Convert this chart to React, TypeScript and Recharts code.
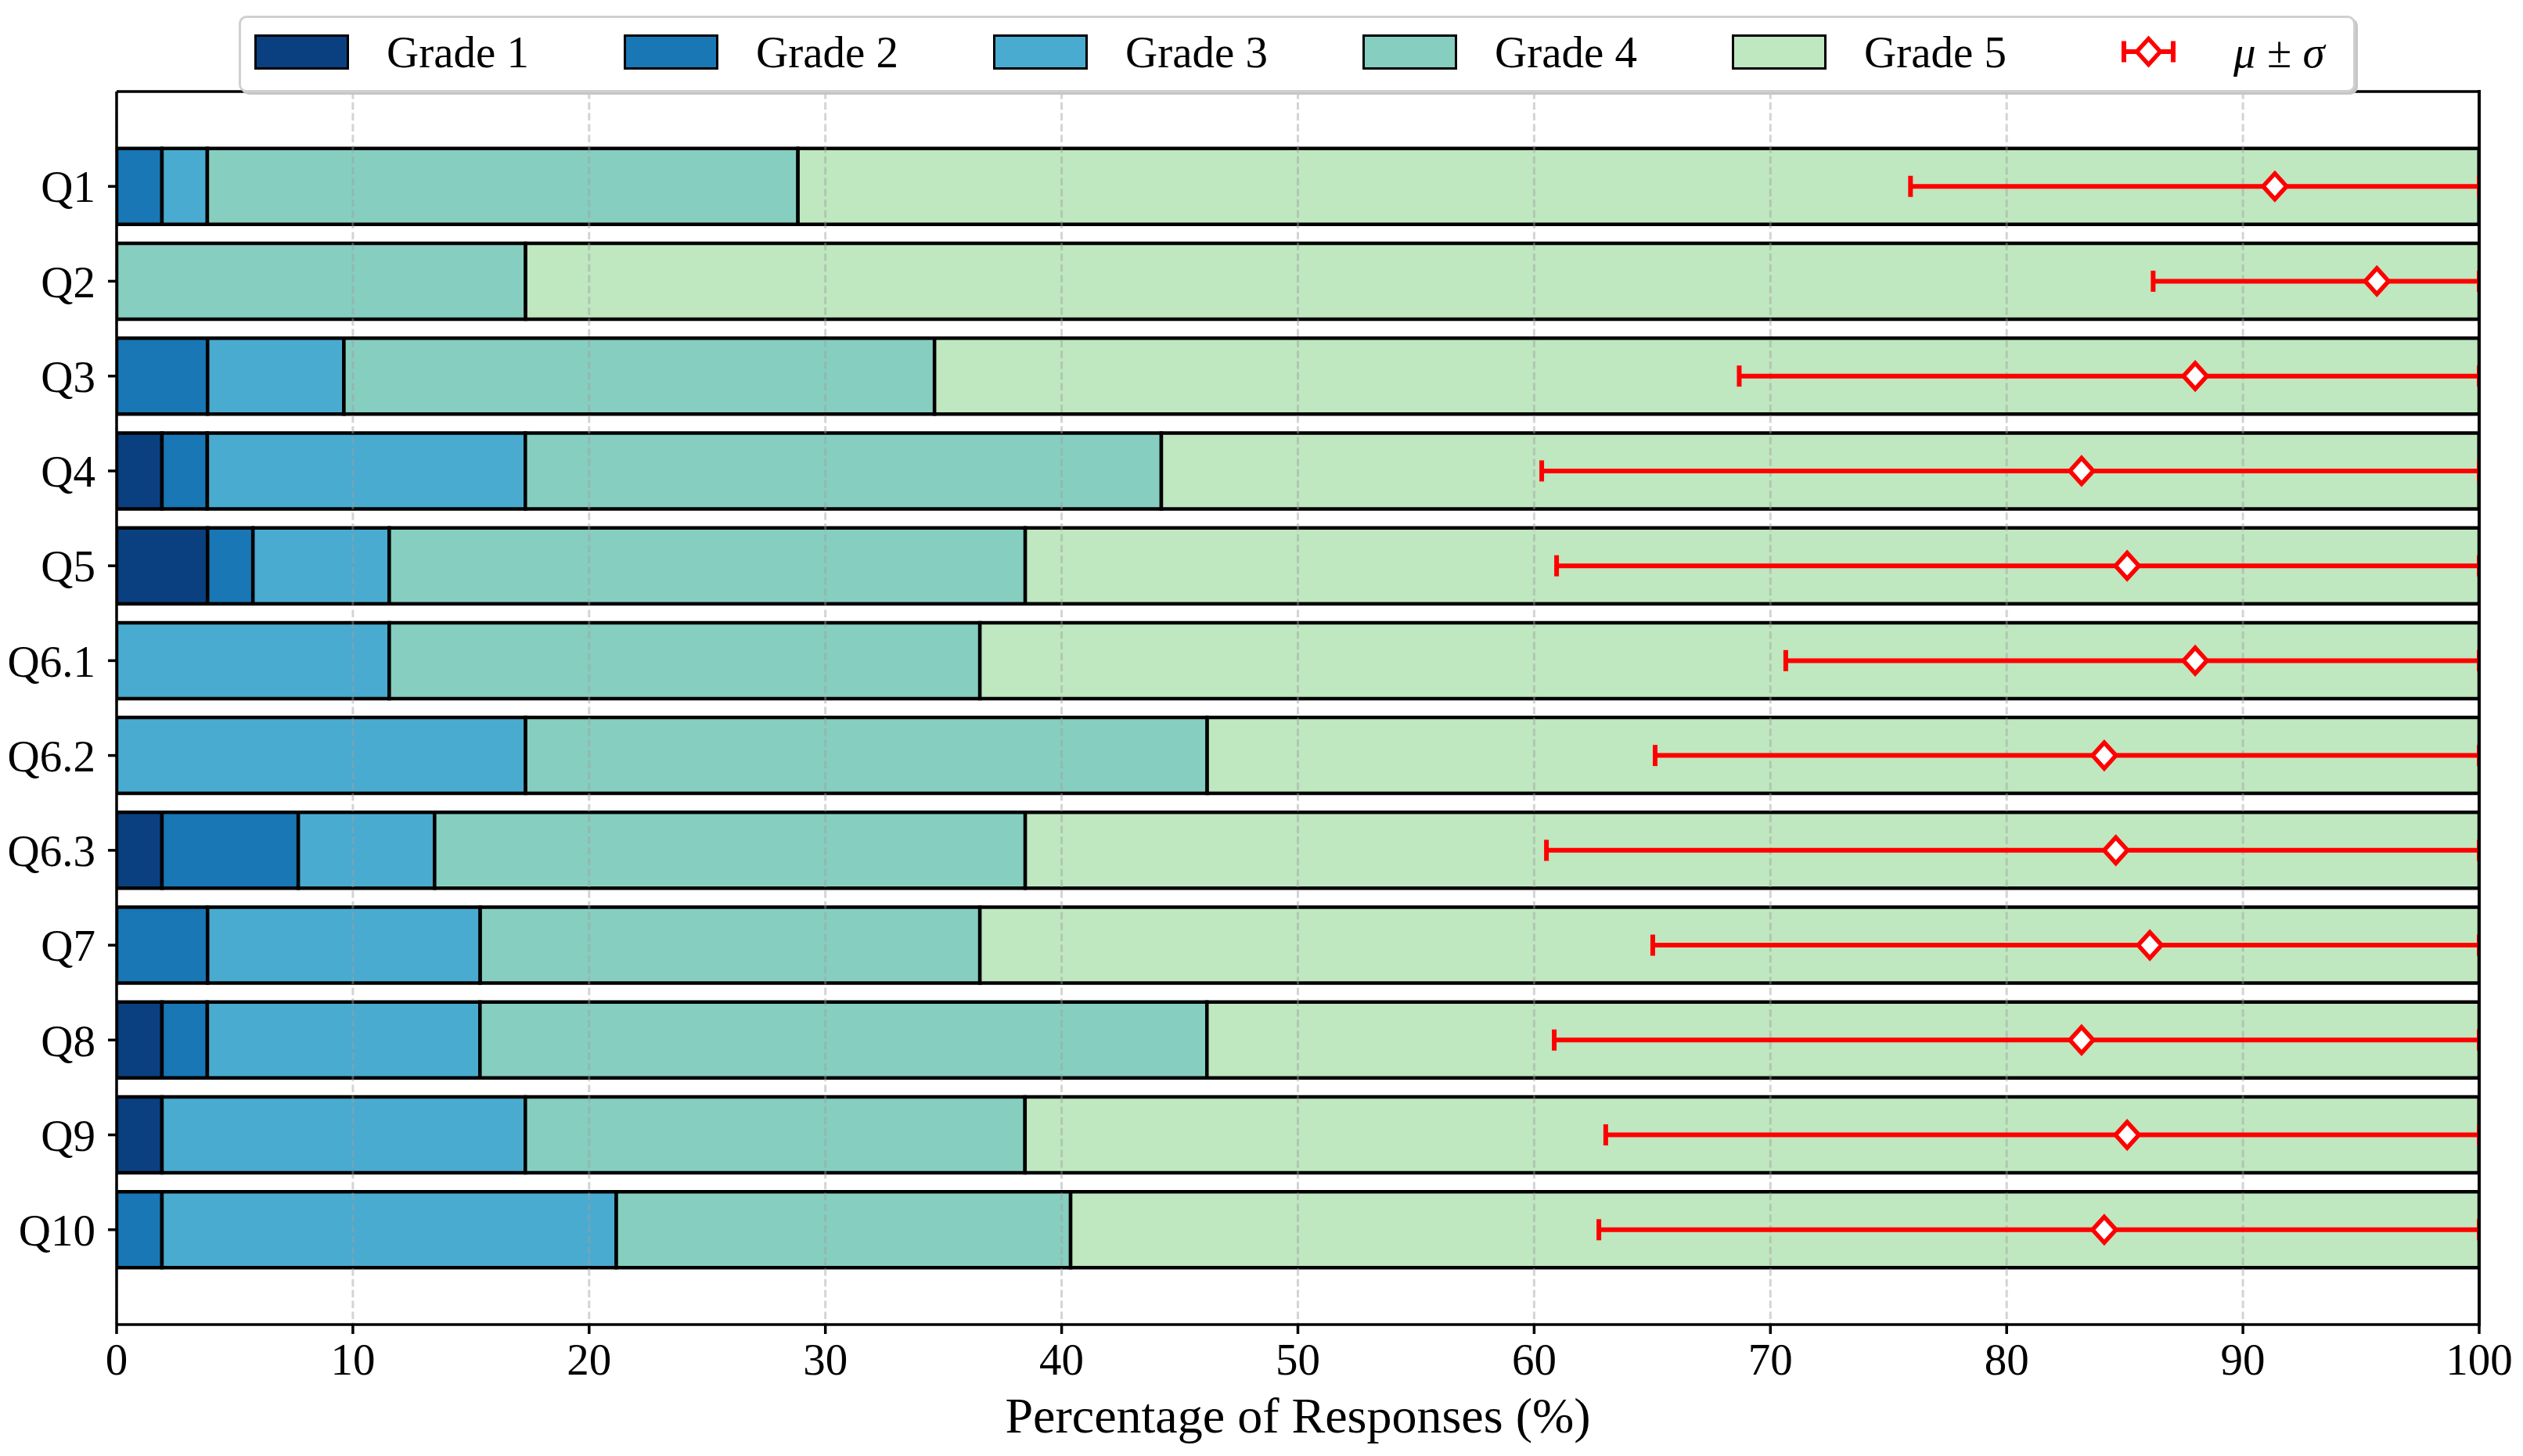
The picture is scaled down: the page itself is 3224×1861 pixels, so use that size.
import {
  Bar,
  CartesianGrid,
  ComposedChart,
  ErrorBar,
  Label,
  Legend,
  Scatter,
  XAxis,
  YAxis,
} from "recharts";

const FONT = '"Liberation Serif", "DejaVu Serif", serif';

// share of responses per grade (%), one entry per question
const questions = ["Q1", "Q2", "Q3", "Q4", "Q5", "Q6.1", "Q6.2", "Q6.3", "Q7", "Q8", "Q9", "Q10"];
const grade1 = [0, 0, 0, 1.92, 3.85, 0, 0, 1.92, 0, 1.92, 1.92, 0];
const grade2 = [1.92, 0, 3.85, 1.92, 1.92, 0, 0, 5.77, 3.85, 1.92, 0, 1.92];
const grade3 = [1.92, 0, 5.77, 13.46, 5.77, 11.54, 17.31, 5.77, 11.54, 11.54, 15.38, 19.23];
const grade4 = [25.0, 17.31, 25.0, 26.92, 26.92, 25.0, 28.85, 25.0, 21.15, 30.77, 21.15, 19.23];
const grade5 = [71.15, 82.69, 65.38, 55.77, 61.54, 63.46, 53.85, 61.54, 63.46, 53.85, 61.54, 59.62];

// mean grade and std dev, rescaled to the 0-100 axis
const meanPct = [91.35, 95.67, 87.98, 83.17, 85.1, 87.98, 84.13, 84.62, 86.06, 83.17, 85.1, 84.13];
const sdPct = [15.42, 9.47, 19.3, 22.85, 24.15, 17.33, 19.01, 24.1, 21.04, 22.32, 22.07, 21.39];

const xTicks = [0, 10, 20, 30, 40, 50, 60, 70, 80, 90, 100];

const series = [
  { key: "g1", name: "Grade 1", color: "#0a4080" },
  { key: "g2", name: "Grade 2", color: "#1877b4" },
  { key: "g3", name: "Grade 3", color: "#49abd0" },
  { key: "g4", name: "Grade 4", color: "#86cec0" },
  { key: "g5", name: "Grade 5", color: "#bfe7c0" },
];

const rows = questions.map((q, i) => ({
  q,
  g1: grade1[i],
  g2: grade2[i],
  g3: grade3[i],
  g4: grade4[i],
  g5: grade5[i],
  mean: meanPct[i],
  // the upper whisker is cut at the right spine, like the original
  errX: [sdPct[i], Math.min(sdPct[i], 100 - meanPct[i])],
}));

const RED = "#ff0000";
const AXIS_W = 3.5;

// chart geometry
const W = 3224;
const H = 1861;
const MARGIN = { top: 116, right: 56, bottom: 0, left: 0 };
const X_AXIS_H = 168;
const TOP_AXIS_H = 1;

function Diamond({ cx, cy }: { cx?: number; cy?: number }) {
  if (cx == null || cy == null) return null;
  const w = 15;
  const h = 16.5;
  return (
    <polygon
      points={`${cx},${cy - h} ${cx + w},${cy} ${cx},${cy + h} ${cx - w},${cy}`}
      fill="#fff"
      stroke={RED}
      strokeWidth={5.5}
    />
  );
}

function LegendBox() {
  return (
    <div
      style={{
        boxSizing: "border-box",
        width: 2705,
        height: 98,
        background: "#fff",
        border: "3px solid #d0d0d0",
        borderRadius: 10,
        boxShadow: "3px 3px 0 #c6c6c6",
        display: "flex",
        alignItems: "center",
        paddingLeft: 17,
        paddingBottom: 6,
        fontFamily: FONT,
        fontSize: 57,
        color: "#000",
      }}
    >
      {series.map((s) => (
        <div
          key={s.key}
          style={{ width: 472, flexShrink: 0, display: "flex", alignItems: "center" }}
        >
          <span
            style={{
              boxSizing: "border-box",
              width: 121,
              height: 45,
              flexShrink: 0,
              background: s.color,
              border: "3.5px solid #000",
              marginRight: 48,
            }}
          />
          <span style={{ lineHeight: 1, whiteSpace: "nowrap" }}>{s.name}</span>
        </div>
      ))}
      <div style={{ display: "flex", alignItems: "center" }}>
        <svg width={121} height={50} style={{ flexShrink: 0 }}>
          <line x1={29} y1={25} x2={92} y2={25} stroke={RED} strokeWidth={6} />
          <line x1={29} y1={11.5} x2={29} y2={38.5} stroke={RED} strokeWidth={6} />
          <line x1={92} y1={11.5} x2={92} y2={38.5} stroke={RED} strokeWidth={6} />
          <Diamond cx={60.5} cy={25} />
        </svg>
        <span style={{ marginLeft: 48, lineHeight: 1, whiteSpace: "nowrap" }}>
          <i>μ</i> ± <i>σ</i>
        </span>
      </div>
    </div>
  );
}

export default function App() {
  const tickStyle = { fill: "#000", fontSize: 57, fontFamily: FONT };
  const plotTop = MARGIN.top + TOP_AXIS_H;
  const plotBottom = H - MARGIN.bottom - X_AXIS_H;
  const plotRight = W - MARGIN.right;
  return (
    <div
      style={{
        position: "absolute",
        left: 0,
        top: 0,
        width: W,
        height: H,
        background: "#fff",
      }}
    >
      <ComposedChart
        width={W}
        height={H}
        data={rows}
        layout="vertical"
        margin={MARGIN}
        barCategoryGap="10%"
      >
        {series.map((s) => (
          <Bar
            key={s.key}
            dataKey={s.key}
            name={s.name}
            stackId="grades"
            fill={s.color}
            stroke="#000"
            strokeWidth={4.5}
            isAnimationActive={false}
          />
        ))}

        <CartesianGrid
          horizontal={false}
          stroke="#a0a0a0"
          strokeOpacity={0.45}
          strokeWidth={3}
          strokeDasharray="9.5 4.3"
          zIndex={350}
        />

        <Scatter
          dataKey="mean"
          shape={Diamond}
          isAnimationActive={false}
          legendType="none"
        >
          <ErrorBar
            dataKey="errX"
            direction="x"
            width={13.5}
            strokeWidth={6}
            stroke={RED}
            zIndex={450}
            isAnimationActive={false}
          />
        </Scatter>

        <Legend
          layout="vertical"
          align="center"
          verticalAlign="middle"
          wrapperStyle={{ top: 20, left: 305, width: 2705, height: 98 }}
          content={() => <LegendBox />}
        />

        <XAxis
          type="number"
          domain={[0, 100]}
          allowDataOverflow
          ticks={xTicks}
          interval={0}
          height={X_AXIS_H}
          tickSize={12}
          tickMargin={12}
          tick={tickStyle}
          tickLine={{ stroke: "#000", strokeWidth: AXIS_W }}
          axisLine={{ stroke: "#000", strokeWidth: AXIS_W }}
        >
          <Label
            value="Percentage of Responses (%)"
            position="insideBottom"
            offset={30}
            fontSize={64}
            fontFamily={FONT}
            fill="#000"
          />
        </XAxis>
        <XAxis
          xAxisId="top"
          orientation="top"
          type="number"
          domain={[0, 100]}
          height={TOP_AXIS_H}
          tick={false}
          tickLine={false}
          axisLine={{ stroke: "#000", strokeWidth: AXIS_W }}
        />
        <YAxis
          type="category"
          dataKey="q"
          width={149}
          padding={{ top: 60.6, bottom: 60.6 }}
          tickSize={11}
          tickMargin={16}
          tick={tickStyle}
          tickLine={{ stroke: "#000", strokeWidth: AXIS_W }}
          axisLine={{ stroke: "#000", strokeWidth: AXIS_W }}
        />
      </ComposedChart>

      {/* right spine of the frame */}
      <div
        style={{
          position: "absolute",
          left: plotRight - AXIS_W / 2,
          top: plotTop - AXIS_W / 2,
          width: AXIS_W,
          height: plotBottom - plotTop + AXIS_W,
          background: "#000",
          pointerEvents: "none",
        }}
      />
      {/* keep the clipped whisker caps from showing outside the frame */}
      <div
        style={{
          position: "absolute",
          left: plotRight + AXIS_W / 2,
          top: plotTop + AXIS_W,
          width: MARGIN.right - AXIS_W,
          height: plotBottom - plotTop - 2 * AXIS_W,
          background: "#fff",
          pointerEvents: "none",
        }}
      />
    </div>
  );
}
